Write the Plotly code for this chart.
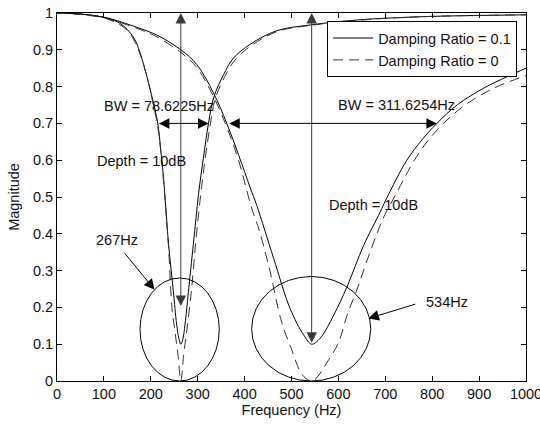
import plotly.graph_objects as go

# Notch filter magnitude responses (frequency in Hz, linear magnitude)
# 267 Hz notch, damping ratio 0.1
freq_267_d01 = [0, 50, 100, 130, 150, 165, 175, 188, 202, 215, 221, 227, 232, 238,
                248, 255, 260, 264, 268, 274, 280, 291, 302, 312, 323, 334, 355,
                376, 412, 469, 543, 640, 780, 1000]
mag_267_d01 = [1.0, 0.997, 0.988, 0.975, 0.955, 0.93, 0.90, 0.845, 0.775, 0.70, 0.63,
               0.555, 0.47, 0.37, 0.245, 0.155, 0.115, 0.10, 0.112, 0.165, 0.24, 0.375,
               0.51, 0.605, 0.70, 0.77, 0.832, 0.877, 0.915, 0.952, 0.968, 0.981,
               0.99, 0.995]

# 267 Hz notch, damping ratio 0
freq_267_d0 = [0, 50, 100, 150, 175, 190, 203, 215, 222, 228, 238, 245, 252, 258,
               264, 270, 277, 287, 296, 305, 315, 326, 337, 358, 380, 415, 470,
               545, 640, 780, 1000]
mag_267_d0 = [1.0, 0.997, 0.987, 0.953, 0.895, 0.835, 0.765, 0.69, 0.615, 0.53,
              0.36, 0.20, 0.13, 0.07, 0.0, 0.07, 0.14, 0.25, 0.38, 0.49, 0.595,
              0.69, 0.765, 0.828, 0.873, 0.912, 0.95, 0.967, 0.98, 0.99, 0.995]

# 534 Hz notch, damping ratio 0.1
freq_534_d01 = [0, 50, 106, 150, 177, 213, 264, 298, 334, 362, 387, 412, 426, 462,
                497, 526, 543, 561, 590, 618, 654, 689, 703, 746, 778, 810, 853,
                910, 960, 1000]
mag_534_d01 = [1.0, 0.997, 0.987, 0.97, 0.958, 0.94, 0.90, 0.86, 0.782, 0.70, 0.615,
               0.525, 0.477, 0.333, 0.197, 0.125, 0.10, 0.116, 0.179, 0.255, 0.369,
               0.459, 0.497, 0.60, 0.655, 0.70, 0.75, 0.796, 0.827, 0.85]

# 534 Hz notch, damping ratio 0
freq_534_d0 = [0, 50, 106, 177, 213, 264, 298, 334, 362, 387, 415, 431, 452, 479,
               499, 523, 544, 578, 601, 618, 640, 659, 682, 699, 718, 762, 792,
               824, 870, 930, 1000]
mag_534_d0 = [1.0, 0.996, 0.985, 0.955, 0.935, 0.893, 0.852, 0.772, 0.69, 0.60,
              0.47, 0.41, 0.31, 0.16, 0.09, 0.017, 0.0, 0.055, 0.107, 0.177, 0.25,
              0.32, 0.40, 0.452, 0.497, 0.60, 0.655, 0.70, 0.75, 0.795, 0.83]

legend_names = ["Damping Ratio = 0.1", "Damping Ratio = 0"]
bw_labels = ["BW = 78.6225Hz", "BW = 311.6254Hz"]
depth_label = "Depth = 10dB"
notch_labels = ["267Hz", "534Hz"]

x_ticks = list(range(0, 1001, 100))
y_ticks = [round(0.1 * i, 1) for i in range(11)]

FONT = "Arial, 'Liberation Sans', Helvetica, sans-serif"
TXT = "#111111"
solid = dict(color="black", width=1)
dashed = dict(color="#333333", width=1, dash="10px,6px")

fig = go.Figure()
fig.add_trace(go.Scatter(x=freq_267_d01, y=mag_267_d01, mode="lines", line=solid,
                         line_shape="spline", name=legend_names[0],
                         legendgroup="d01"))
fig.add_trace(go.Scatter(x=freq_267_d0, y=mag_267_d0, mode="lines", line=dashed,
                         line_shape="spline", name=legend_names[1],
                         legendgroup="d0"))
fig.add_trace(go.Scatter(x=freq_534_d01, y=mag_534_d01, mode="lines", line=solid,
                         line_shape="spline", name=legend_names[0],
                         legendgroup="d01", showlegend=False))
fig.add_trace(go.Scatter(x=freq_534_d0, y=mag_534_d0, mode="lines", line=dashed,
                         line_shape="spline", name=legend_names[1],
                         legendgroup="d0", showlegend=False))

# Circles around the two notches
for x0, x1, y1 in [(177, 346, 0.280), (415, 669, 0.284)]:
    fig.add_shape(type="circle", xref="x", yref="y", x0=x0, x1=x1, y0=0.0, y1=y1,
                  line=dict(color="black", width=1))

def arrow(x, y, ax, ay, both=False, color="black"):
    fig.add_annotation(x=x, y=y, ax=ax, ay=ay, xref="x", yref="y", axref="x",
                       ayref="y", text="", showarrow=True, arrowhead=2,
                       startarrowhead=2, arrowsize=2.1, startarrowsize=2.1,
                       arrowwidth=1, arrowcolor=color,
                       arrowside="end+start" if both else "end")

# depth arrows (vertical) and bandwidth arrows (horizontal)
arrow(264, 1.0, 264, 0.2, both=True, color="#3a3a3a")
arrow(543, 1.0, 543, 0.1, both=True, color="#3a3a3a")
arrow(323, 0.70, 214, 0.70, both=True)
arrow(810, 0.70, 364, 0.70, both=True)
# pointers to the circles
arrow(208, 0.248, 142, 0.351)
arrow(664, 0.17, 767, 0.21)

def label(x, y, text):
    fig.add_annotation(x=x, y=y, xref="x", yref="y", text=text, showarrow=False,
                       xanchor="left", yanchor="middle",
                       font=dict(family=FONT, size=14.5, color=TXT))

label(95, 0.748, bw_labels[0])
label(81, 0.597, depth_label)
label(595, 0.749, bw_labels[1])
label(575, 0.479, depth_label)
label(79, 0.384, notch_labels[0])
label(782, 0.215, notch_labels[1])

axis_common = dict(showline=True, linecolor="black", linewidth=1, mirror="ticks",
                   ticks="inside", ticklen=5, tickcolor="black", showgrid=False,
                   zeroline=False, automargin=False,
                   tickfont=dict(family=FONT, size=14.5, color=TXT))

fig.update_xaxes(range=[0, 1000], tickvals=x_ticks, ticktext=[str(v) for v in x_ticks],
                 ticklabeloverflow="allow",
                 title=dict(text="Frequency (Hz)", standoff=2,
                            font=dict(family=FONT, size=14.5, color=TXT)),
                 **axis_common)
fig.update_yaxes(range=[0, 1], tickvals=y_ticks,
                 ticktext=["0" if v == 0 else ("1" if v == 1 else str(v)) for v in y_ticks],
                 title=dict(text="Magnitude", standoff=9,
                            font=dict(family=FONT, size=14.5, color=TXT)),
                 **axis_common)

fig.update_layout(
    width=540, height=424,
    margin=dict(l=57, r=14, t=13, b=43),
    plot_bgcolor="white", paper_bgcolor="white",
    font=dict(family=FONT, size=14.5, color=TXT),
    legend=dict(x=0.576, y=0.978, xanchor="left", yanchor="top",
                bgcolor="white", bordercolor="black", borderwidth=1,
                font=dict(family=FONT, size=14.5, color=TXT),
                tracegroupgap=0, itemwidth=40),
)

fig.write_html("out.html")
